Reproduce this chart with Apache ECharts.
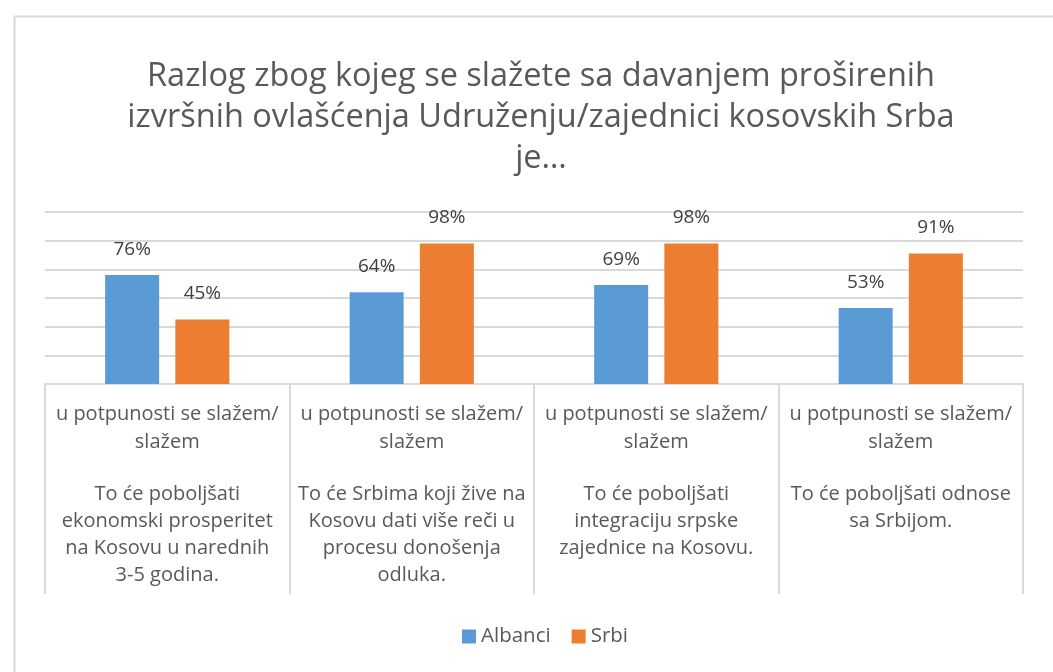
<!DOCTYPE html>
<html>
<head>
<meta charset="utf-8">
<script src="https://cdn.jsdelivr.net/npm/echarts@6/dist/echarts.min.js"></script>
<style>html,body{margin:0;padding:0;background:#fff;}#c{width:1053px;height:672px;}</style>
</head>
<body>
<div id="c"></div>
<script>
const titleText = 'Razlog zbog kojeg se slažete sa davanjem proširenih\nizvršnih ovlašćenja Udruženju/zajednici kosovskih Srba\nje…';
const questions = [
  'To će poboljšati\nekonomski prosperitet\nna Kosovu u narednih\n3-5 godina.',
  'To će Srbima koji žive na\nKosovu dati više reči u\nprocesu donošenja\nodluka.',
  'To će poboljšati\nintegraciju srpske\nzajednice na Kosovu.',
  'To će poboljšati odnose\nsa Srbijom.'
];
const answerLevel = [
  'u potpunosti se slažem/\nslažem',
  'u potpunosti se slažem/\nslažem',
  'u potpunosti se slažem/\nslažem',
  'u potpunosti se slažem/\nslažem'
];
const seriesNames = ['Albanci', 'Srbi'];
const albanci = [76, 64, 69, 53];
const srbi = [45, 98, 98, 91];

const chart = echarts.init(document.getElementById('c'), null, {renderer: 'canvas'});
const FONT = '"Open Sans"';
const labelCommon = {
  show: true, position: 'top', distance: 16,
  formatter: p => p.value + '%',
  color: '#404040', fontFamily: FONT, fontSize: 19
};
chart.setOption({
  animation: false,
  backgroundColor: '#fff',
  graphic: [{
    type: 'rect', left: 12, top: 14,
    shape: {width: 1100, height: 700},
    style: {fill: 'none', stroke: '#d9d9d9', lineWidth: 2},
    silent: true, z: -1
  }],
  title: {
    text: titleText,
    left: 536, top: 51,
    textAlign: 'center',
    textStyle: {fontFamily: FONT, fontSize: 32.5, fontWeight: 'normal', color: '#595959', lineHeight: 41}
  },
  legend: {
    data: seriesNames,
    left: 462, top: 626, padding: 0,
    itemWidth: 14, itemHeight: 14, itemGap: 21,
    icon: 'rect',
    textStyle: {fontFamily: FONT, fontSize: 20.5, color: '#595959'}
  },
  grid: {left: 45, right: 30, top: 212, bottom: 288, containLabel: false},
  xAxis: [{
    type: 'category', data: questions, position: 'bottom', offset: 77,
    axisLine: {show: true, lineStyle: {color: '#eeeeee', width: 1}},
    axisTick: {show: true, length: 210, lineStyle: {color: '#d9d9d9', width: 2}},
    axisLabel: {interval: 0, margin: 20, fontFamily: FONT, fontSize: 20, lineHeight: 27, color: '#595959', align: 'center'}
  }, {
    type: 'category', data: answerLevel, position: 'bottom', offset: 0,
    axisLine: {show: true, lineStyle: {color: '#d9d9d9', width: 2}},
    axisTick: {show: true, length: 77, lineStyle: {color: '#d9d9d9', width: 2}},
    axisLabel: {interval: 0, margin: 16, fontFamily: FONT, fontSize: 20, lineHeight: 28, color: '#595959', align: 'center'}
  }],
  yAxis: {
    type: 'value', min: 0, max: 120, interval: 20,
    axisLabel: {show: false}, axisLine: {show: false}, axisTick: {show: false},
    splitLine: {lineStyle: {color: '#d9d9d9', width: 2}}
  },
  series: [{
    name: seriesNames[0], type: 'bar', data: albanci, xAxisIndex: 0,
    barWidth: 54, barGap: '30%',
    itemStyle: {color: '#5B9BD5'}, label: labelCommon
  }, {
    name: seriesNames[1], type: 'bar', data: srbi, xAxisIndex: 0,
    barWidth: 54, barGap: '30%',
    itemStyle: {color: '#ED7D31'}, label: labelCommon
  }]
});
</script>
</body>
</html>
